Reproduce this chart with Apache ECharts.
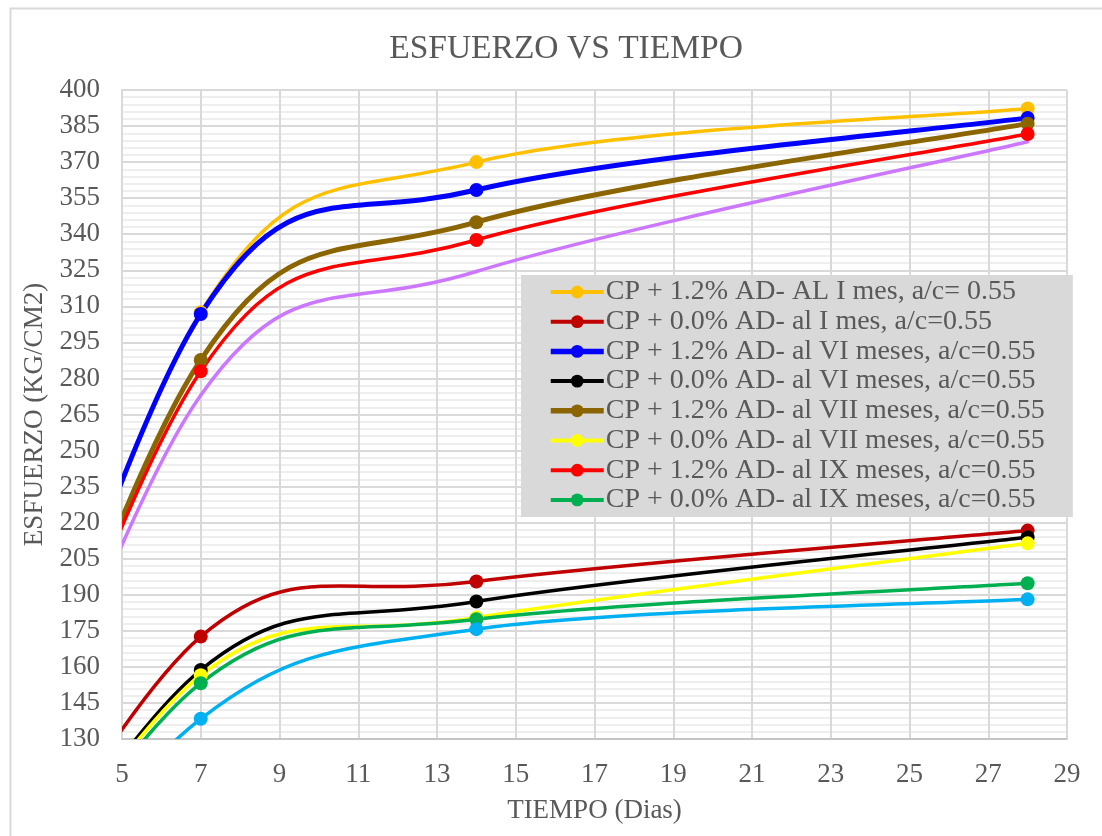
<!DOCTYPE html>
<html>
<head>
<meta charset="utf-8">
<script src="https://cdn.jsdelivr.net/npm/echarts@6/dist/echarts.min.js"></script>
<style>
html,body{margin:0;padding:0;background:#fff;}
#chart{width:1102px;height:836px;}
</style>
</head>
<body>
<div id="chart"></div>
<script>
// ---- data ----
const days = [0, 7, 14, 28];
const names = [
  "CP + 1.2% AD- AL I mes, a/c= 0.55",
  "CP + 0.0% AD- al I mes, a/c=0.55",
  "CP + 1.2% AD- al VI meses, a/c=0.55",
  "CP + 0.0% AD- al VI meses, a/c=0.55",
  "CP + 1.2% AD- al VII meses, a/c=0.55",
  "CP + 0.0% AD- al VII meses, a/c=0.55",
  "CP + 1.2% AD- al IX meses, a/c=0.55",
  "CP + 0.0% AD- al IX meses, a/c=0.55",
  "Serie 9",
  "Serie 10"
];
const s1 = [0, 307.5, 370, 392.3];
const s2 = [0, 172.6, 195.5, 216.7];
const s3 = [0, 306.8, 358.4, 388.4];
const s4 = [0, 158.7, 187.2, 213.9];
const s5 = [0, 287.7, 345, 386];
const s6 = [0, 156.5, 180.5, 211.4];
const s7 = [0, 283, 337.6, 381.7];
const s8 = [0, 153.2, 179.8, 194.8];
const s9 = [0, 273, 324.5, 378.5];
const s10 = [0, 138.4, 175.7, 188.1];
const xTicks = {min: 5, max: 29, interval: 2};
const yTicks = {min: 130, max: 400, interval: 15};

const allValues = [s1, s2, s3, s4, s5, s6, s7, s8, s9, s10];
const colors = ["#FFC000", "#C00000", "#0000FF", "#000000", "#8B6500", "#FFFF00", "#FF0000", "#00B050", "#CC77FF", "#00B0F0"];
const widths = [3.5, 3.5, 5, 3.5, 5, 3.5, 3.5, 3.5, 3.5, 3.5];
const showMarkers = [true, true, true, true, true, true, true, true, false, true];

const FONT = "'Liberation Serif','Times New Roman',serif";
const TXT = "#595959";

// Excel-style smoothed curve (Catmull-Rom / Bezier, tension 1/6), drawn through the axis scales
function curveSeries(k) {
  const vals = allValues[k];
  const n = days.length;
  return {
    name: names[k] + ' (curva)',
    type: 'custom',
    coordinateSystem: 'cartesian2d',
    clip: true,
    silent: true,
    z: 2,
    data: days.map((d, i) => [d, vals[i]]),
    encode: {x: 0, y: 1},
    renderItem: function (params, api) {
      const i = params.dataIndex;
      if (i >= n - 1) return null;
      const P = j => {
        const c = Math.max(0, Math.min(n - 1, j));
        return api.coord([days[c], vals[c]]);
      };
      const p0 = P(i - 1), p1 = P(i), p2 = P(i + 1), p3 = P(i + 2);
      return {
        type: 'bezierCurve',
        shape: {
          x1: p1[0], y1: p1[1], x2: p2[0], y2: p2[1],
          cpx1: p1[0] + (p2[0] - p0[0]) / 6, cpy1: p1[1] + (p2[1] - p0[1]) / 6,
          cpx2: p2[0] - (p3[0] - p1[0]) / 6, cpy2: p2[1] - (p3[1] - p1[1]) / 6
        },
        style: {stroke: colors[k], lineWidth: widths[k], fill: null, lineCap: 'round'}
      };
    }
  };
}

function markerSeries(k) {
  const vals = allValues[k];
  return {
    name: names[k],
    type: 'line',
    clip: true,
    z: 2,
    symbol: 'circle',
    symbolSize: 14,
    showSymbol: showMarkers[k],
    color: colors[k],
    lineStyle: {width: widths[k], color: colors[k], opacity: 0},
    itemStyle: {color: colors[k]},
    emphasis: {disabled: true},
    data: days.map((d, i) => ({
      value: [d, vals[i]],
      symbol: (showMarkers[k] && d >= xTicks.min) ? 'circle' : 'none'
    }))
  };
}

const series = [];
allValues.forEach((v, k) => { series.push(curveSeries(k)); series.push(markerSeries(k)); });

const chart = echarts.init(document.getElementById('chart'), null, {renderer: 'canvas'});
chart.setOption({
  animation: false,
  backgroundColor: '#ffffff',
  graphic: [{
    type: 'rect', left: 8, top: 6, silent: true,
    shape: {x: 0, y: 0, width: 1200, height: 900},
    style: {fill: 'none', stroke: '#D9D9D9', lineWidth: 2}
  }],
  title: {
    text: 'ESFUERZO VS TIEMPO',
    left: 561, top: 27, textAlign: 'center',
    textStyle: {fontFamily: FONT, fontSize: 33.5, fontWeight: 'normal', color: TXT}
  },
  grid: {left: 122, right: 35, top: 90, bottom: 97, containLabel: false},
  legend: {
    data: names.slice(0, 8).map((nm, k) => ({
      name: nm,
      lineStyle: {opacity: 1, width: widths[k] + 0.5, color: colors[k]}
    })),
    orient: 'vertical',
    left: 521, top: 275,
    backgroundColor: '#D9D9D9',
    padding: [3, 28, 3, 27],
    itemWidth: 53, itemHeight: 16,
    itemGap: 1.7,
    lineStyle: {opacity: 1},
    textStyle: {fontFamily: FONT, fontSize: 28, color: TXT, lineHeight: 28, padding: [0, 0, 0, -3]},
    selectedMode: false
  },
  xAxis: {
    type: 'value',
    min: xTicks.min, max: xTicks.max, interval: xTicks.interval,
    name: 'TIEMPO (Dias)', nameLocation: 'middle', nameGap: 58,
    nameTextStyle: {fontFamily: FONT, fontSize: 27, color: TXT},
    axisLine: {show: true, lineStyle: {color: '#BFBFBF', width: 1.5}},
    axisTick: {show: false},
    axisLabel: {fontFamily: FONT, fontSize: 27, color: TXT, margin: 22},
    splitLine: {show: true, lineStyle: {color: '#D9D9D9', width: 2}}
  },
  yAxis: {
    type: 'value',
    min: yTicks.min, max: yTicks.max, interval: yTicks.interval,
    name: 'ESFUERZO (KG/CM2)', nameLocation: 'middle', nameGap: 70,
    nameTextStyle: {fontFamily: FONT, fontSize: 27, color: TXT},
    axisLine: {show: true, lineStyle: {color: '#D9D9D9', width: 2}},
    axisTick: {show: false},
    axisLabel: {fontFamily: FONT, fontSize: 27, color: TXT, margin: 22},
    splitLine: {show: true, lineStyle: {color: '#D9D9D9', width: 2}},
    minorTick: {show: false, splitNumber: 5},
    minorSplitLine: {show: true, lineStyle: {color: '#EEEEEE', width: 2}}
  },
  series: series
});
</script>
</body>
</html>
